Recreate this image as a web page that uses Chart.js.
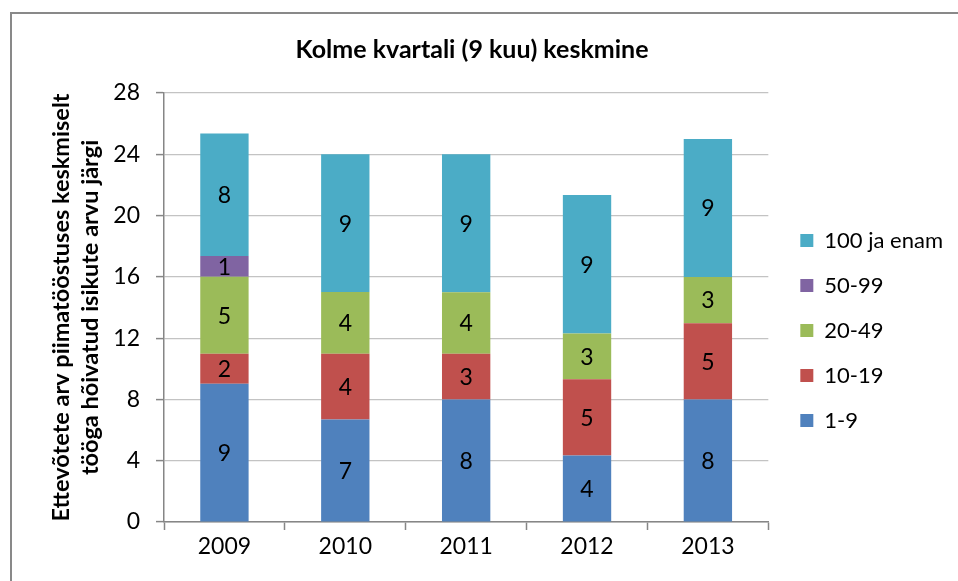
<!DOCTYPE html>
<html>
<head>
<meta charset="utf-8">
<script src="https://cdn.jsdelivr.net/npm/chart.js@4.4.1/dist/chart.umd.min.js"></script>
<style>
  html, body { margin: 0; padding: 0; background: #fff; overflow: hidden; }
  #frame { position: absolute; left: 10px; top: 12px; width: 2000px; height: 2000px;
           border-left: 2px solid #898989; border-top: 2px solid #898989; }
  #wrap { position: absolute; left: 0; top: 0; width: 958px; height: 581px; }
</style>
</head>
<body>
<div id="frame"></div>
<div id="wrap"><canvas id="chart"></canvas></div>
<script>
const years = ['2009', '2010', '2011', '2012', '2013'];
const size1to9 = [9.02, 6.69, 8.0, 4.34, 8.0];
const size10to19 = [1.96, 4.29, 2.98, 4.98, 4.98];
const size20to49 = [5.03, 4.03, 4.02, 2.99, 3.01];
const size50to99 = [1.35, 0, 0, 0, 0];
const size100plus = [8.0, 9.0, 9.0, 9.04, 9.01];
const yTicks = [0, 4, 8, 12, 16, 20, 24, 28];

const FONT = 'Lato, "Open Sans", sans-serif';
const axisGrey = '#868686';

// draw rounded value in the middle of every segment
const segmentLabels = {
  id: 'segmentLabels',
  afterDatasetsDraw(chart) {
    const ctx = chart.ctx;
    ctx.save();
    ctx.font = '23px ' + FONT;
    ctx.fillStyle = '#000';
    ctx.textAlign = 'center';
    ctx.textBaseline = 'middle';
    chart.data.datasets.forEach((ds, di) => {
      const meta = chart.getDatasetMeta(di);
      if (meta.hidden) return;
      meta.data.forEach((bar, i) => {
        const v = Math.round(ds.data[i]);
        if (!v) return;
        ctx.fillText(String(v), bar.x, (bar.y + bar.base) / 2 + 1);
      });
    });
    ctx.restore();
  }
};

// legend sits a bit right of the plot edge and lower than centre in the original
const legendNudge = {
  id: 'legendNudge',
  afterLayout(chart) {
    const lg = chart.legend;
    if (!lg) return;
    lg.left += 9; lg.right += 9;
    lg.top += 45; lg.bottom += 45;
  }
};

const makeSet = (label, data, color) => ({
  label, data, backgroundColor: color, borderWidth: 0,
  barPercentage: 0.4, categoryPercentage: 1.0,
});

new Chart(document.getElementById('chart'), {
  type: 'bar',
  data: {
    labels: years,
    datasets: [
      makeSet('1-9', size1to9, '#4F81BD'),
      makeSet('10-19', size10to19, '#C0504D'),
      makeSet('20-49', size20to49, '#9BBB59'),
      makeSet('50-99', size50to99, '#8064A2'),
      makeSet('100 ja enam', size100plus, '#4BACC6'),
    ]
  },
  plugins: [segmentLabels, legendNudge],
  options: {
    responsive: true, maintainAspectRatio: false, animation: false,
    layout: { padding: { left: 0, right: 14, top: 0, bottom: 10 } },
    plugins: {
      tooltip: { enabled: false },
      title: {
        display: true, text: 'Kolme kvartali (9 kuu) keskmine', color: '#000',
        font: { family: FONT, size: 25, weight: 'bold', lineHeight: 1.2 },
        padding: { top: 35, bottom: 28 },
      },
      legend: {
        position: 'right', reverse: true,
        labels: {
          color: '#000', font: { family: FONT, size: 22 },
          boxWidth: 13, boxHeight: 13, padding: 23,
        }
      }
    },
    scales: {
      x: {
        stacked: true,
        afterFit: s => { s.height = 49; },
        border: { color: axisGrey, width: 1.5 },
        grid: { offset: true, drawOnChartArea: false, tickLength: 8, tickColor: axisGrey, tickWidth: 1.5 },
        ticks: { color: '#000', font: { family: FONT, size: 23 }, padding: 3 },
      },
      y: {
        stacked: true, min: 0, max: 28,
        afterFit: s => { s.width = 164; },
        afterBuildTicks: s => { s.ticks = yTicks.map(v => ({ value: v })); },
        border: { color: axisGrey, width: 1.5 },
        grid: { color: '#c3c3c3', lineWidth: 1.2, tickLength: 8, tickColor: axisGrey, tickWidth: 1.5 },
        ticks: { color: '#000', font: { family: FONT, size: 23 }, padding: 16 },
        title: {
          display: true, color: '#000',
          text: ['Ettevõtete arv piimatööstuses keskmiselt', 'tööga hõivatud isikute arvu järgi'],
          font: { family: FONT, size: 23.5, weight: 'bold', lineHeight: 1.23 },
          padding: { top: 47, bottom: 0 },
        }
      }
    }
  }
});
</script>
</body>
</html>
